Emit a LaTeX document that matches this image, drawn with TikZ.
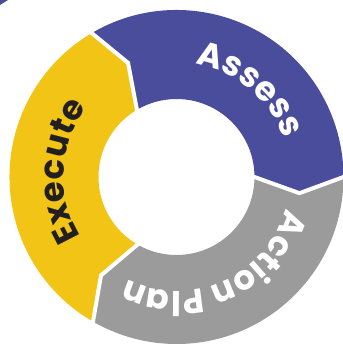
\documentclass[tikz,border=0pt]{standalone}
\usepackage{fontspec}
\newfontfamily\pop{Poppins}
\usetikzlibrary{decorations.text}
\definecolor{cpurple}{HTML}{4A4D9C}
\definecolor{cgray}{HTML}{9B9B9B}
\definecolor{cyellow}{HTML}{F2C416}
\definecolor{cdark}{HTML}{231F20}
\def\Ro{167pt}
\def\Ri{78pt}
\def\Rm{124pt}
\def\dd{7.5}
\newcommand\ringseg[3]{%
  \fill[#3] (#1:\Ro) arc[start angle=#1, end angle=#2, radius=\Ro]
    -- ({#2-\dd}:\Rm) -- (#2:\Ri) arc[start angle=#2, end angle=#1, radius=\Ri]
    -- ({#1-\dd}:\Rm) -- cycle;}
\newcommand\ringgap[1]{%
  \draw[gapline] ({#1}:{\Ro+4pt}) -- (#1:\Ro) -- ({#1-\dd}:\Rm) -- (#1:\Ri) -- ({#1}:{\Ri-4pt});}
\newcommand\ringtype{\pop\bfseries\fontsize{34pt}{34pt}\selectfont}
\tikzset{
  gapline/.style={white, line width=4pt, line join=miter},
  ringfont/.style={decorate, decoration={text along path, text align=center,
     text color=#1}},
}
\begin{document}
\begin{tikzpicture}
\useasboundingbox (-176.5pt,-167pt) rectangle (165.5pt,177pt);
\fill[cpurple] (-176.5pt,177pt) -- (-168.5pt,177pt) -- (-176.5pt,172pt) -- cycle;
\ringseg{120.5}{0}{cpurple}
\ringseg{0}{-120}{cgray}
\ringseg{240}{120.5}{cyellow}
\ringgap{120.5}
\ringgap{0}
\ringgap{240}
\path[ringfont=white, decoration={text={|\ringtype|Assess}}]
  (110:114pt) arc[start angle=110, end angle=-10, radius=114pt];
\path[ringfont=white, decoration={text={|\ringtype|Action Plan}}]
  (-6:114pt) arc[start angle=-6, end angle=-126, radius=114pt];
\path[ringfont=cdark, decoration={text={|\ringtype|Execute}}]
  (237:113pt) arc[start angle=237, end angle=117, radius=113pt];
\end{tikzpicture}
\end{document}
